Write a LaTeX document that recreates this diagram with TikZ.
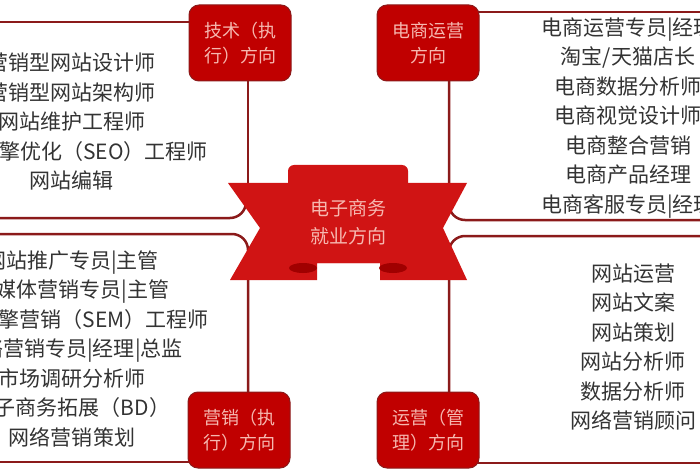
\documentclass[tikz,border=0pt]{standalone}
\usepackage{fontspec}
\setmainfont{Noto Sans CJK SC}
\usetikzlibrary{positioning}
\definecolor{boxred}{HTML}{C00000}
\definecolor{ribred}{HTML}{D01414}
\definecolor{foldred}{HTML}{A00000}
\definecolor{linered}{HTML}{8B1A1A}
\definecolor{pinktext}{HTML}{F6B8B0}
\definecolor{jobtext}{HTML}{333333}

\begin{document}
\begin{tikzpicture}[x=1pt,y=-1pt,
                    dirbox/.style={fill=boxred,draw=linered,line width=1pt,rounded corners=10pt,
                      minimum width=102pt,minimum height=76pt,align=center,
                      text=pinktext,font=\fontsize{18}{25}\selectfont},
                    joblist/.style={align=center,text=jobtext,font=\fontsize{21}{29.5}\selectfont},
                    panel/.style={draw=linered,line width=2.5pt,rounded corners=16pt}]

  \useasboundingbox (0,0) rectangle (700,470);

  % panels
  \draw[panel] (0,22) -- (195,22);
  \draw[panel] (0,218) -- (246,218) -- (246,190);
  \draw[panel] (0,234) -| (248,400);
  \draw[panel] (0,462) -- (195,462);
  \draw[panel] (475,12) -- (700,12);
  \draw[panel] (449,75) |- (700,220);
  \draw[panel] (700,236) -| (449,400);
  \draw[panel] (475,463) -- (700,463);

  % direction boxes
  \node[dirbox] (tech) at (240,43)  {技术（执\\行）方向};
  \node[dirbox] (shop) at (428,43)  {电商运营\\方向};
  \node[dirbox] (sell) at (239,430) {营销（执\\行）方向};
  \node[dirbox] (oper) at (428,430) {运营（管\\理）方向};

  % ribbon
  \coordinate (rib) at (348,222);
  \draw[linered,line width=2.5pt] (tech.south -| 248,0) -- (248,190);
  \fill[ribred] (228,183) -- (467,183) -- (443,228) -- (467,280) -- (380,280) -- (380,263)
                -- (317,263) -- (317,280) -- (230,280) -- (260,228) -- cycle;
  \fill[ribred,rounded corners=6pt] (288,165) rectangle (408,263);
  \fill[foldred] (303,268) ellipse (14 and 5);
  \fill[foldred] (393,268) ellipse (14 and 5);
  \node[text=pinktext,align=center,font=\fontsize{19}{28}\selectfont] (title) at (rib) {电子商务\\就业方向};

  % job lists
  \node[joblist] (techjobs) at (72,122) {营销型网站设计师\\营销型网站架构师\\网站维护工程师\\搜索引擎优化（SEO）工程师\\网站编辑};
  \node[joblist] (shopjobs) at (628,118) {电商运营专员|经理\\淘宝/天猫店长\\电商数据分析师\\电商视觉设计师\\电商整合营销\\电商产品经理\\电商客服专员|经理};
  \node[joblist] (selljobs) at (72,349) {网站推广专员|主管\\新媒体营销专员|主管\\搜索引擎营销（SEM）工程师\\网络营销专员|经理|总监\\市场调研分析师\\电子商务拓展（BD）\\网络营销策划};
  \node[joblist] (operjobs) at (633,347) {网站运营\\网站文案\\网站策划\\网站分析师\\数据分析师\\网络营销顾问};
\end{tikzpicture}
\end{document}
